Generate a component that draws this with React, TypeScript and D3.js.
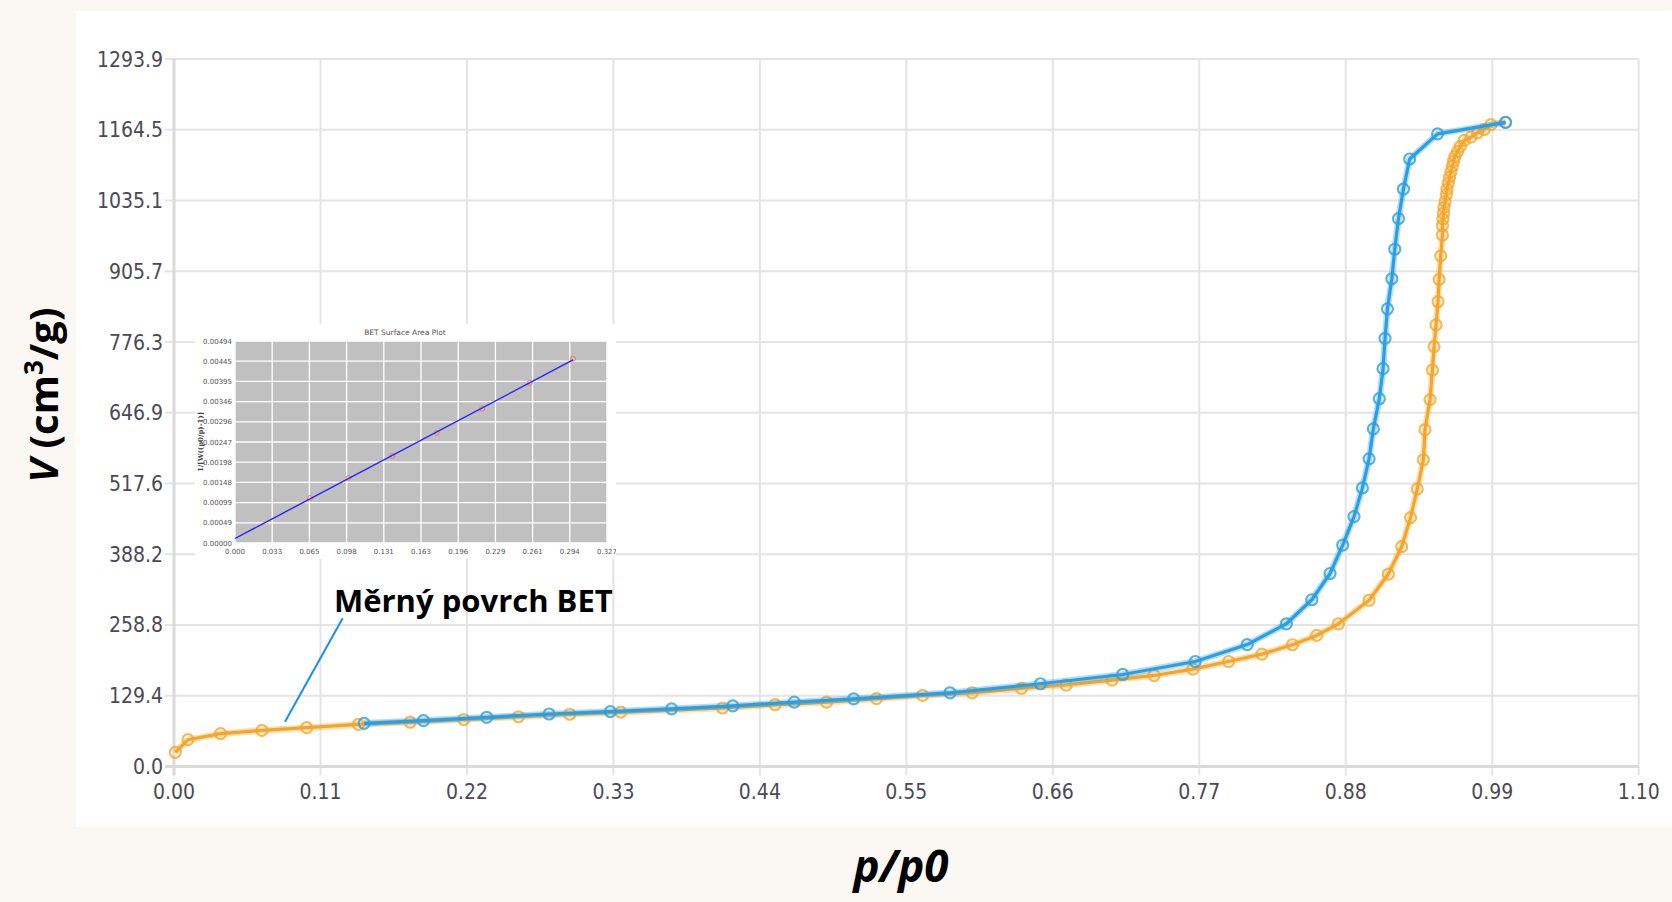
import React from "react";
import * as d3 from "d3";

// ---- data ----
const xTickValues = [0, 0.11, 0.22, 0.33, 0.44, 0.55, 0.66, 0.77, 0.88, 0.99, 1.1];
const xTickLabels = ["0.00", "0.11", "0.22", "0.33", "0.44", "0.55", "0.66", "0.77", "0.88", "0.99", "1.10"];
const yTickValues = [0, 129.4, 258.8, 388.2, 517.6, 646.9, 776.3, 905.7, 1035.1, 1164.5, 1293.9];
const yTickLabels = ["0.0", "129.4", "258.8", "388.2", "517.6", "646.9", "776.3", "905.7", "1035.1", "1164.5", "1293.9"];

// adsorption branch [p/p0, V]
const adsorption: [number, number][] = [
  [0.001, 26], [0.0105, 49], [0.035, 60], [0.066, 66], [0.0997, 71], [0.1385, 77],
  [0.1773, 81], [0.2176, 86], [0.2587, 91], [0.2972, 95.6], [0.3355, 99.3], [0.412, 107],
  [0.4514, 113], [0.49, 117.6], [0.5276, 124], [0.5622, 130], [0.5995, 134.8], [0.6364, 143],
  [0.67, 149], [0.7045, 158], [0.736, 166.5], [0.7652, 178], [0.792, 192], [0.817, 205.5],
  [0.84, 222.7], [0.8582, 239.7], [0.8745, 261], [0.8975, 304], [0.912, 352], [0.922, 402],
  [0.9286, 455], [0.9337, 507.7], [0.9383, 561], [0.9395, 616], [0.9433, 671], [0.9451, 725],
  [0.9463, 768], [0.9478, 807.6], [0.9493, 850], [0.9501, 891], [0.9513, 934], [0.9526, 972],
  [0.9526, 989], [0.953, 1001], [0.9534, 1012], [0.9538, 1023], [0.9546, 1033], [0.9556, 1046],
  [0.956, 1056], [0.957, 1067], [0.958, 1078], [0.959, 1088], [0.96, 1098], [0.961, 1107],
  [0.962, 1116], [0.964, 1125], [0.966, 1134], [0.969, 1145], [0.974, 1151], [0.979, 1159],
  [0.984, 1165], [0.989, 1174], [1.0, 1178],
];

// desorption branch [p/p0, V]
const desorption: [number, number][] = [
  [0.1428, 79], [0.1874, 84], [0.2348, 90], [0.2817, 96], [0.3277, 100.5], [0.3737, 105.5],
  [0.4197, 111], [0.4658, 117.6], [0.5104, 123.8], [0.5828, 134.8], [0.6507, 151.3], [0.7125, 168.3],
  [0.767, 192], [0.806, 223], [0.8354, 261], [0.8545, 305], [0.8682, 353], [0.8777, 405],
  [0.8862, 457], [0.8925, 509.5], [0.8975, 562.7], [0.9007, 617.6], [0.9052, 672.6], [0.908, 727.5],
  [0.9095, 783], [0.9113, 837], [0.9146, 892], [0.9168, 946], [0.9196, 1002], [0.9233, 1056],
  [0.928, 1111], [0.949, 1157], [1.0, 1178],
];

// BET inset
const betXTicks = [0, 0.0327, 0.0654, 0.0981, 0.1308, 0.1635, 0.1962, 0.2289, 0.2616, 0.2943, 0.327];
const betXLabels = ["0.000", "0.033", "0.065", "0.098", "0.131", "0.163", "0.196", "0.229", "0.261", "0.294", "0.327"];
const betYTicks = [0, 0.000494, 0.000988, 0.001482, 0.001976, 0.00247, 0.002964, 0.003458, 0.003952, 0.004446, 0.00494];
const betYLabels = ["0.00000", "0.00049", "0.00099", "0.00148", "0.00198", "0.00247", "0.00296", "0.00346", "0.00395", "0.00445", "0.00494"];
const betPoints: [number, number][] = [
  [0.066, 0.0011], [0.0997, 0.00159], [0.1384, 0.002128], [0.1774, 0.00269],
  [0.2173, 0.003285], [0.259, 0.003913], [0.2971, 0.004508],
];

const BLUE = "#2a9fe4";
const ORANGE = "#f5a62a";
const TICK_FONT = "'DejaVu Sans Condensed', 'DejaVu Sans', sans-serif";
const TITLE_FONT = "'Open Sans', Lato, sans-serif";

export default function App() {
  const x = d3.scaleLinear().domain([0, 1.1]).range([174, 1638.7]);
  const y = d3.scaleLinear().domain([0, 1293.9]).range([766.5, 59]);
  const line = d3.line<[number, number]>().x((d) => x(d[0])).y((d) => y(d[1]));

  // inset scales
  const bx = d3.scaleLinear().domain([0, 0.327]).range([235, 607]);
  const by = d3.scaleLinear().domain([0, 0.00494]).range([543, 341]);
  const mx = d3.mean(betPoints, (d) => d[0]) as number;
  const my = d3.mean(betPoints, (d) => d[1]) as number;
  const sxy = d3.sum(betPoints, (d) => (d[0] - mx) * (d[1] - my));
  const sxx = d3.sum(betPoints, (d) => (d[0] - mx) ** 2);
  const slope = sxy / sxx;
  const icpt = my - slope * mx;
  const fitX0 = 0;
  const fitX1 = betPoints[betPoints.length - 1][0];

  const x0 = x.range()[0];
  const x1 = x.range()[1];
  const yBottom = y.range()[0];
  const yTop = y.range()[1];

  return (
    <svg width={1672} height={902} style={{ position: "absolute", left: 0, top: 0 }}>
      <defs>
        <clipPath id="insetClip">
          <rect x={195} y={324} width={421} height={235} />
        </clipPath>
      </defs>
      <rect x={0} y={0} width={1672} height={902} fill="#fbf8f3" />
      <rect x={76} y={11} width={1596} height={816} fill="#ffffff" />

      {/* grid */}
      {xTickValues.map((v, i) => (
        <line key={"gx" + i} x1={x(v)} x2={x(v)} y1={yTop} y2={yBottom + 9} stroke="#e4e4e4" strokeWidth={2} />
      ))}
      {yTickValues.map((v, i) => (
        <line key={"gy" + i} x1={x0 - 9} x2={x1} y1={y(v)} y2={y(v)} stroke="#e4e4e4" strokeWidth={2} />
      ))}
      <line x1={x0} x2={x0} y1={yTop} y2={yBottom + 9} stroke="#dadada" strokeWidth={3} />
      <line x1={x0 - 9} x2={x1} y1={yBottom} y2={yBottom} stroke="#dadada" strokeWidth={3} />

      {/* tick labels */}
      {xTickValues.map((v, i) => (
        <text key={"tx" + i} x={x(v)} y={799} textAnchor="middle" fontFamily={TICK_FONT} fontSize={21} fill="#4a4a55">
          {xTickLabels[i]}
        </text>
      ))}
      {yTickValues.map((v, i) => (
        <text key={"ty" + i} x={163} y={y(v) + 7.5} textAnchor="end" fontFamily={TICK_FONT} fontSize={21} fill="#4a4a55">
          {yTickLabels[i]}
        </text>
      ))}

      {/* series */}
      <g>
        <path d={line(adsorption) || ""} fill="none" stroke={ORANGE} strokeOpacity={0.35} strokeWidth={6.5} strokeLinejoin="round" />
        <path d={line(adsorption) || ""} fill="none" stroke={ORANGE} strokeWidth={3.2} strokeLinejoin="round" />
        {adsorption.map((d, i) => (
          <circle key={"a" + i} cx={x(d[0])} cy={y(d[1])} r={5.5} fill="none" stroke={ORANGE} strokeWidth={2.2} strokeOpacity={0.8} />
        ))}
      </g>
      <g>
        <path d={line(desorption) || ""} fill="none" stroke={BLUE} strokeOpacity={0.35} strokeWidth={6.5} strokeLinejoin="round" />
        <path d={line(desorption) || ""} fill="none" stroke={BLUE} strokeWidth={3.2} strokeLinejoin="round" />
        {desorption.map((d, i) => (
          <circle key={"d" + i} cx={x(d[0])} cy={y(d[1])} r={5.5} fill="none" stroke={BLUE} strokeWidth={2.2} strokeOpacity={0.8} />
        ))}
      </g>

      {/* axis titles */}
      <text transform="translate(58,395) rotate(-90)" textAnchor="middle" fontFamily={TITLE_FONT} fontWeight={700} fontSize={40} fill="#000">
        <tspan fontStyle="italic">V</tspan>
        <tspan> (cm</tspan>
        <tspan fontSize={26} dy={-15}>3</tspan>
        <tspan dy={15}>/g)</tspan>
      </text>
      <text x={901} y={882} textAnchor="middle" fontFamily={TITLE_FONT} fontWeight={700} fontStyle="italic" fontSize={44} fill="#000">
        p/p0
      </text>

      {/* annotation */}
      <line x1={342.7} y1={618.3} x2={285} y2={721.7} stroke="#1a8ff0" strokeWidth={2} />
      <text x={334} y={611.5} fontFamily={TITLE_FONT} fontWeight={700} fontSize={31} fill="#000">
        Měrný povrch BET
      </text>

      {/* BET inset */}
      <g clipPath="url(#insetClip)">
        <rect x={195} y={324} width={421} height={235} fill="#ffffff" />
        <text x={405} y={335} textAnchor="middle" fontFamily="'DejaVu Sans', sans-serif" fontSize={7.5} fill="#555">
          BET Surface Area Plot
        </text>
        <rect x={bx.range()[0]} y={by.range()[1]} width={bx.range()[1] - bx.range()[0]} height={by.range()[0] - by.range()[1]} fill="#c0c0c0" />
        {betXTicks.map((v, i) => (
          <line key={"bgx" + i} x1={bx(v)} x2={bx(v)} y1={by.range()[1]} y2={by.range()[0]} stroke="#ffffff" strokeWidth={1.3} />
        ))}
        {betYTicks.map((v, i) => (
          <line key={"bgy" + i} x1={bx.range()[0]} x2={bx.range()[1]} y1={by(v)} y2={by(v)} stroke="#ffffff" strokeWidth={1.3} />
        ))}
        {betXTicks.map((v, i) => (
          <text key={"btx" + i} x={bx(v)} y={553.5} textAnchor="middle" fontFamily="'DejaVu Sans', sans-serif" fontSize={7} fill="#555">
            {betXLabels[i]}
          </text>
        ))}
        {betYTicks.map((v, i) => (
          <text key={"bty" + i} x={232} y={by(v) + 2.5} textAnchor="end" fontFamily="'DejaVu Sans', sans-serif" fontSize={7} fill="#555">
            {betYLabels[i]}
          </text>
        ))}
        <text transform="translate(203,442) rotate(-90)" textAnchor="middle" fontFamily="'DejaVu Serif', serif" fontWeight={700} fontSize={7} fill="#444">
          1/[W((p0/p)-1)]
        </text>
        <text x={405} y={564} textAnchor="middle" fontFamily="'DejaVu Serif', serif" fontWeight={700} fontSize={8} fill="#444">
          p/p0
        </text>
        {betPoints.map((d, i) => (
          <circle key={"bp" + i} cx={bx(d[0])} cy={by(d[1])} r={2.5} fill="none" stroke="#ff7070" strokeWidth={1} />
        ))}
        <line x1={bx(fitX0)} y1={by(icpt + slope * fitX0)} x2={bx(fitX1)} y2={by(icpt + slope * fitX1)} stroke="#2424ff" strokeWidth={1.4} />
      </g>
    </svg>
  );
}
